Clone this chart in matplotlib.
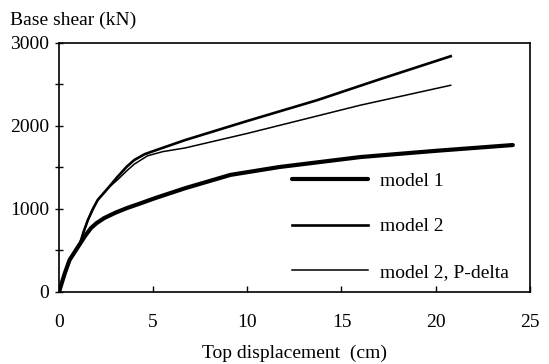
import matplotlib.pyplot as plt
from matplotlib.ticker import MultipleLocator

plt.rcParams["font.family"] = "Liberation Serif"

# model 1
x_m1 = [0, 0.3, 0.56, 1.0, 1.4, 1.7, 2.0, 2.4, 3.0, 3.6, 4.3, 5.1, 6.7, 9.1, 11.7, 16.0, 20.0, 24.1]
y_m1 = [0, 220, 385, 540, 680, 770, 830, 890, 955, 1010, 1065, 1130, 1250, 1410, 1505, 1625, 1700, 1770]

# model 2
x_m2 = [0, 0.3, 0.56, 1.09, 1.3, 1.53, 1.8, 2.06, 2.6, 3.1, 3.6, 4.0, 4.55, 5.3, 6.7, 10.0, 13.7, 17.0, 20.8]
y_m2 = [0, 220, 385, 565, 720, 865, 1000, 1110, 1250, 1385, 1510, 1590, 1660, 1720, 1830, 2060, 2310, 2560, 2840]

# model 2, P-delta
x_pd = [0, 0.3, 0.56, 1.09, 1.3, 1.53, 1.8, 2.06, 2.6, 3.1, 3.6, 4.0, 4.7, 5.5, 6.7, 10.0, 13.0, 16.0, 20.8]
y_pd = [0, 220, 385, 565, 720, 865, 1000, 1110, 1250, 1350, 1460, 1540, 1640, 1690, 1735, 1910, 2080, 2250, 2490]

fig = plt.figure(figsize=(5.49, 3.64), dpi=100)
ax = fig.add_axes([0.1075, 0.198, 0.8575, 0.684])

ax.plot(x_m1, y_m1, color="black", lw=3.0, label="model 1", solid_capstyle="round")
ax.plot(x_m2, y_m2, color="black", lw=1.9, label="model 2")
ax.plot(x_pd, y_pd, color="black", lw=1.1, label="model 2, P-delta")

ax.set_xlim(0, 25)
ax.set_ylim(0, 3000)
ax.xaxis.set_major_locator(MultipleLocator(5))
ax.yaxis.set_major_locator(MultipleLocator(1000))
ax.yaxis.set_minor_locator(MultipleLocator(500))
ax.tick_params(axis="y", which="both", direction="inout", length=6, width=1, labelsize=14, pad=4)
ax.tick_params(axis="x", direction="in", length=4, width=1, labelsize=14, pad=16)
for s in ax.spines.values():
    s.set_linewidth(1.2)

fig.text(0.018, 0.945, "Base shear (kN)", fontsize=14, va="center", ha="left")
ax.set_xlabel("Top displacement  (cm)", fontsize=14, labelpad=10)

ax.legend(loc="upper left", bbox_to_anchor=(292 / 549, 1 - 172 / 364),
          bbox_transform=fig.transFigure, frameon=False, fontsize=14,
          handlelength=3.9, handletextpad=0.65, labelspacing=1.45, borderpad=0,
          borderaxespad=0)

fig.savefig("out.png", dpi=100)
